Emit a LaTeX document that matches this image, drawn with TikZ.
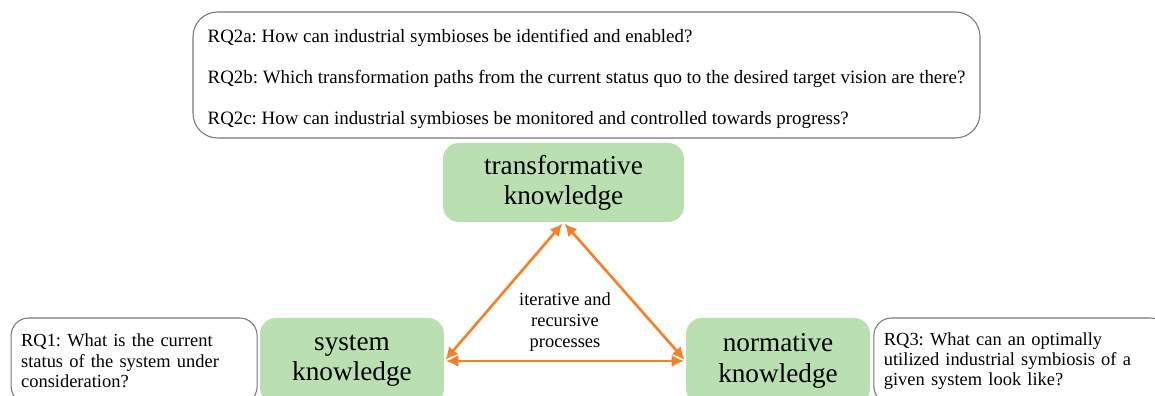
\documentclass[tikz,border=0pt]{standalone}
\usepackage{fontspec}
\setmainfont{Liberation Serif}
\frenchspacing
\usetikzlibrary{shapes.geometric, arrows.meta, positioning}
\definecolor{kgreen}{RGB}{186,224,178}
\definecolor{korange}{RGB}{245,128,40}
\definecolor{kgray}{RGB}{120,120,120}
\tikzset{
  kbox/.style  = {fill=kgreen, rounded corners=9pt, minimum width=3.68cm, minimum height=1.72cm, align=center, inner sep=0pt, font=\fontsize{15.5}{17.2}\selectfont},
  qbox/.style  = {draw=kgray, line width=0.6pt, rounded corners=10pt, minimum height=1.72cm, inner xsep=0.2cm, align=left, font=\fontsize{10.5}{11.6}\selectfont},
  twoway/.style = {{Latex[length=7pt,width=7pt]}-{Latex[length=7pt,width=7pt]}, korange, line width=1.5pt, shorten <=1pt, shorten >=1pt},
}

\begin{document}
\begin{tikzpicture}[every node/.style={text=black}]
    \useasboundingbox (0,0) rectangle (23.1,-7.92);
    \node (n00) [qbox, rounded corners=14pt, minimum width=15.74cm, inner xsep=0.28cm, minimum height=2.52cm, font=\fontsize{10.75}{23.4}\selectfont] at (11.73,-1.5)
      {\rule{0pt}{12pt}RQ2a: How can industrial symbioses be identified and enabled?\\
       RQ2b: Which transformation paths from the current status quo to the desired target vision are there?\\
       RQ2c: How can industrial symbioses be monitored and controlled towards progress?};
    \node (n10) [kbox, minimum width=4.82cm, minimum height=1.58cm] at (11.27,-3.65) {transformative\\knowledge};
    \node (n20) [kbox] at (7.04,-7.22) {system\\knowledge};
    \node (n21) [kbox] at (15.56,-7.22) {normative\\knowledge};
    \node (q1) [qbox, text width=4.52cm, left=0.04cm of n20] {RQ1: What is the current\\status of the system under\\consideration?};
    \node (q3) [qbox, text width=5.48cm, right=0.06cm of n21] {RQ3: What can an optimally\\utilized industrial symbiosis of a\\given system look like?};
    \node (n30) [align=center, font=\fontsize{10.5}{11.8}\selectfont] at (11.3,-6.44) {iterative and\\recursive\\processes};

    \draw [twoway] (n10.south) -- (n20.east);
    \draw [twoway] (n10.south) -- (n21.west);
    \draw [twoway] (n20.east) -- (n21.west);
\end{tikzpicture}
\end{document}
